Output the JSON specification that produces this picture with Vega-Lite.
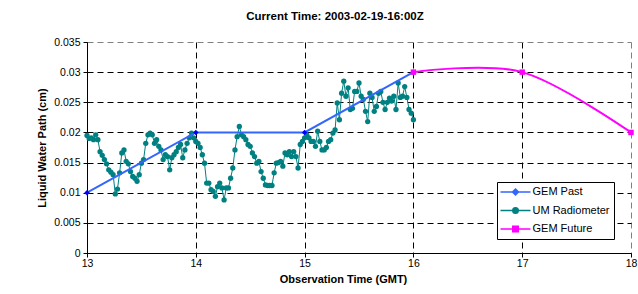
{
  "$schema": "https://vega.github.io/schema/vega-lite/v6.json",
  "width": 544,
  "height": 211,
  "autosize": "none",
  "padding": {"left": 87, "top": 42, "right": 7, "bottom": 41},
  "background": "white",
  "config": {"view": {"stroke": null}, "font": "Liberation Sans"},
  "title": {"text": "Current Time: 2003-02-19-16:00Z", "font": "Liberation Sans", "fontSize": 11.5, "fontWeight": "bold", "color": "black", "anchor": "middle", "dx": -24, "offset": 15},
  "data": {"values": [
    {"series": "GEM Past", "t": 13, "v": 0.01},
    {"series": "GEM Past", "t": 14, "v": 0.02},
    {"series": "GEM Past", "t": 15, "v": 0.02},
    {"series": "GEM Past", "t": 16, "v": 0.03},
    {"series": "GEM Future", "t": 16, "v": 0.03},
    {"series": "GEM Future", "t": 17, "v": 0.03},
    {"series": "GEM Future", "t": 18, "v": 0.02},
    {"series": "UM Radiometer", "t": 13.00, "v": 0.0195},
    {"series": "UM Radiometer", "t": 13.02, "v": 0.0190},
    {"series": "UM Radiometer", "t": 13.04, "v": 0.0191},
    {"series": "UM Radiometer", "t": 13.06, "v": 0.0188},
    {"series": "UM Radiometer", "t": 13.08, "v": 0.0196},
    {"series": "UM Radiometer", "t": 13.10, "v": 0.0188},
    {"series": "UM Radiometer", "t": 13.12, "v": 0.0168},
    {"series": "UM Radiometer", "t": 13.14, "v": 0.0162},
    {"series": "UM Radiometer", "t": 13.16, "v": 0.0155},
    {"series": "UM Radiometer", "t": 13.18, "v": 0.0148},
    {"series": "UM Radiometer", "t": 13.20, "v": 0.0138},
    {"series": "UM Radiometer", "t": 13.22, "v": 0.0134},
    {"series": "UM Radiometer", "t": 13.24, "v": 0.0130},
    {"series": "UM Radiometer", "t": 13.26, "v": 0.0098},
    {"series": "UM Radiometer", "t": 13.28, "v": 0.0106},
    {"series": "UM Radiometer", "t": 13.30, "v": 0.0133},
    {"series": "UM Radiometer", "t": 13.32, "v": 0.0166},
    {"series": "UM Radiometer", "t": 13.34, "v": 0.0171},
    {"series": "UM Radiometer", "t": 13.36, "v": 0.0152},
    {"series": "UM Radiometer", "t": 13.38, "v": 0.0148},
    {"series": "UM Radiometer", "t": 13.40, "v": 0.0135},
    {"series": "UM Radiometer", "t": 13.42, "v": 0.0127},
    {"series": "UM Radiometer", "t": 13.44, "v": 0.0124},
    {"series": "UM Radiometer", "t": 13.46, "v": 0.0119},
    {"series": "UM Radiometer", "t": 13.48, "v": 0.0130},
    {"series": "UM Radiometer", "t": 13.50, "v": 0.0149},
    {"series": "UM Radiometer", "t": 13.52, "v": 0.0155},
    {"series": "UM Radiometer", "t": 13.54, "v": 0.0182},
    {"series": "UM Radiometer", "t": 13.56, "v": 0.0196},
    {"series": "UM Radiometer", "t": 13.58, "v": 0.0199},
    {"series": "UM Radiometer", "t": 13.60, "v": 0.0196},
    {"series": "UM Radiometer", "t": 13.62, "v": 0.0182},
    {"series": "UM Radiometer", "t": 13.64, "v": 0.0188},
    {"series": "UM Radiometer", "t": 13.66, "v": 0.0177},
    {"series": "UM Radiometer", "t": 13.68, "v": 0.0171},
    {"series": "UM Radiometer", "t": 13.70, "v": 0.0155},
    {"series": "UM Radiometer", "t": 13.72, "v": 0.0163},
    {"series": "UM Radiometer", "t": 13.74, "v": 0.0160},
    {"series": "UM Radiometer", "t": 13.76, "v": 0.0138},
    {"series": "UM Radiometer", "t": 13.78, "v": 0.0158},
    {"series": "UM Radiometer", "t": 13.80, "v": 0.0163},
    {"series": "UM Radiometer", "t": 13.82, "v": 0.0168},
    {"series": "UM Radiometer", "t": 13.84, "v": 0.0175},
    {"series": "UM Radiometer", "t": 13.86, "v": 0.0180},
    {"series": "UM Radiometer", "t": 13.88, "v": 0.0158},
    {"series": "UM Radiometer", "t": 13.90, "v": 0.0171},
    {"series": "UM Radiometer", "t": 13.92, "v": 0.0182},
    {"series": "UM Radiometer", "t": 13.94, "v": 0.0191},
    {"series": "UM Radiometer", "t": 13.96, "v": 0.0199},
    {"series": "UM Radiometer", "t": 13.98, "v": 0.0191},
    {"series": "UM Radiometer", "t": 14.00, "v": 0.0185},
    {"series": "UM Radiometer", "t": 14.02, "v": 0.0182},
    {"series": "UM Radiometer", "t": 14.04, "v": 0.0175},
    {"series": "UM Radiometer", "t": 14.06, "v": 0.0163},
    {"series": "UM Radiometer", "t": 14.08, "v": 0.0149},
    {"series": "UM Radiometer", "t": 14.10, "v": 0.0116},
    {"series": "UM Radiometer", "t": 14.12, "v": 0.0116},
    {"series": "UM Radiometer", "t": 14.14, "v": 0.0105},
    {"series": "UM Radiometer", "t": 14.16, "v": 0.0102},
    {"series": "UM Radiometer", "t": 14.18, "v": 0.0094},
    {"series": "UM Radiometer", "t": 14.20, "v": 0.0110},
    {"series": "UM Radiometer", "t": 14.22, "v": 0.0116},
    {"series": "UM Radiometer", "t": 14.24, "v": 0.0108},
    {"series": "UM Radiometer", "t": 14.26, "v": 0.0088},
    {"series": "UM Radiometer", "t": 14.28, "v": 0.0108},
    {"series": "UM Radiometer", "t": 14.30, "v": 0.0108},
    {"series": "UM Radiometer", "t": 14.32, "v": 0.0124},
    {"series": "UM Radiometer", "t": 14.34, "v": 0.0141},
    {"series": "UM Radiometer", "t": 14.36, "v": 0.0171},
    {"series": "UM Radiometer", "t": 14.38, "v": 0.0193},
    {"series": "UM Radiometer", "t": 14.40, "v": 0.0210},
    {"series": "UM Radiometer", "t": 14.42, "v": 0.0196},
    {"series": "UM Radiometer", "t": 14.44, "v": 0.0193},
    {"series": "UM Radiometer", "t": 14.46, "v": 0.0188},
    {"series": "UM Radiometer", "t": 14.48, "v": 0.0180},
    {"series": "UM Radiometer", "t": 14.50, "v": 0.0177},
    {"series": "UM Radiometer", "t": 14.52, "v": 0.0166},
    {"series": "UM Radiometer", "t": 14.54, "v": 0.0160},
    {"series": "UM Radiometer", "t": 14.56, "v": 0.0149},
    {"series": "UM Radiometer", "t": 14.58, "v": 0.0152},
    {"series": "UM Radiometer", "t": 14.60, "v": 0.0135},
    {"series": "UM Radiometer", "t": 14.62, "v": 0.0124},
    {"series": "UM Radiometer", "t": 14.64, "v": 0.0113},
    {"series": "UM Radiometer", "t": 14.66, "v": 0.0112},
    {"series": "UM Radiometer", "t": 14.68, "v": 0.0112},
    {"series": "UM Radiometer", "t": 14.70, "v": 0.0112},
    {"series": "UM Radiometer", "t": 14.72, "v": 0.0133},
    {"series": "UM Radiometer", "t": 14.74, "v": 0.0149},
    {"series": "UM Radiometer", "t": 14.76, "v": 0.0150},
    {"series": "UM Radiometer", "t": 14.78, "v": 0.0152},
    {"series": "UM Radiometer", "t": 14.80, "v": 0.0144},
    {"series": "UM Radiometer", "t": 14.82, "v": 0.0166},
    {"series": "UM Radiometer", "t": 14.84, "v": 0.0163},
    {"series": "UM Radiometer", "t": 14.86, "v": 0.0168},
    {"series": "UM Radiometer", "t": 14.88, "v": 0.0160},
    {"series": "UM Radiometer", "t": 14.90, "v": 0.0168},
    {"series": "UM Radiometer", "t": 14.92, "v": 0.0160},
    {"series": "UM Radiometer", "t": 14.94, "v": 0.0141},
    {"series": "UM Radiometer", "t": 14.96, "v": 0.0180},
    {"series": "UM Radiometer", "t": 14.98, "v": 0.0185},
    {"series": "UM Radiometer", "t": 15.00, "v": 0.0191},
    {"series": "UM Radiometer", "t": 15.02, "v": 0.0196},
    {"series": "UM Radiometer", "t": 15.04, "v": 0.0191},
    {"series": "UM Radiometer", "t": 15.06, "v": 0.0185},
    {"series": "UM Radiometer", "t": 15.08, "v": 0.0185},
    {"series": "UM Radiometer", "t": 15.10, "v": 0.0177},
    {"series": "UM Radiometer", "t": 15.12, "v": 0.0202},
    {"series": "UM Radiometer", "t": 15.14, "v": 0.0185},
    {"series": "UM Radiometer", "t": 15.16, "v": 0.0171},
    {"series": "UM Radiometer", "t": 15.18, "v": 0.0171},
    {"series": "UM Radiometer", "t": 15.20, "v": 0.0175},
    {"series": "UM Radiometer", "t": 15.22, "v": 0.0185},
    {"series": "UM Radiometer", "t": 15.24, "v": 0.0188},
    {"series": "UM Radiometer", "t": 15.26, "v": 0.0199},
    {"series": "UM Radiometer", "t": 15.28, "v": 0.0204},
    {"series": "UM Radiometer", "t": 15.30, "v": 0.0249},
    {"series": "UM Radiometer", "t": 15.32, "v": 0.0221},
    {"series": "UM Radiometer", "t": 15.34, "v": 0.0265},
    {"series": "UM Radiometer", "t": 15.36, "v": 0.0285},
    {"series": "UM Radiometer", "t": 15.38, "v": 0.0260},
    {"series": "UM Radiometer", "t": 15.40, "v": 0.0274},
    {"series": "UM Radiometer", "t": 15.42, "v": 0.0238},
    {"series": "UM Radiometer", "t": 15.44, "v": 0.0240},
    {"series": "UM Radiometer", "t": 15.46, "v": 0.0268},
    {"series": "UM Radiometer", "t": 15.48, "v": 0.0268},
    {"series": "UM Radiometer", "t": 15.50, "v": 0.0282},
    {"series": "UM Radiometer", "t": 15.52, "v": 0.0260},
    {"series": "UM Radiometer", "t": 15.54, "v": 0.0255},
    {"series": "UM Radiometer", "t": 15.56, "v": 0.0235},
    {"series": "UM Radiometer", "t": 15.58, "v": 0.0218},
    {"series": "UM Radiometer", "t": 15.60, "v": 0.0265},
    {"series": "UM Radiometer", "t": 15.62, "v": 0.0258},
    {"series": "UM Radiometer", "t": 15.64, "v": 0.0235},
    {"series": "UM Radiometer", "t": 15.66, "v": 0.0243},
    {"series": "UM Radiometer", "t": 15.68, "v": 0.0265},
    {"series": "UM Radiometer", "t": 15.70, "v": 0.0268},
    {"series": "UM Radiometer", "t": 15.72, "v": 0.0250},
    {"series": "UM Radiometer", "t": 15.74, "v": 0.0238},
    {"series": "UM Radiometer", "t": 15.76, "v": 0.0250},
    {"series": "UM Radiometer", "t": 15.78, "v": 0.0257},
    {"series": "UM Radiometer", "t": 15.80, "v": 0.0252},
    {"series": "UM Radiometer", "t": 15.82, "v": 0.0260},
    {"series": "UM Radiometer", "t": 15.84, "v": 0.0238},
    {"series": "UM Radiometer", "t": 15.86, "v": 0.0282},
    {"series": "UM Radiometer", "t": 15.88, "v": 0.0258},
    {"series": "UM Radiometer", "t": 15.90, "v": 0.0260},
    {"series": "UM Radiometer", "t": 15.92, "v": 0.0276},
    {"series": "UM Radiometer", "t": 15.94, "v": 0.0258},
    {"series": "UM Radiometer", "t": 15.96, "v": 0.0238},
    {"series": "UM Radiometer", "t": 15.98, "v": 0.0232},
    {"series": "UM Radiometer", "t": 16.00, "v": 0.0221}
  ]},
  "encoding": {
    "x": {
      "field": "t", "type": "quantitative",
      "scale": {"domain": [13, 18], "nice": false, "zero": false},
      "axis": {
        "values": [13, 14, 15, 16, 17, 18],
        "title": "Observation Time (GMT)",
        "titleFont": "Liberation Sans", "titleFontSize": 11, "titleFontWeight": "bold", "titleColor": "black",
        "titleX": 256, "titleAnchor": "middle", "titleAlign": "center", "titlePadding": 5,
        "labelFont": "Liberation Sans", "labelFontSize": 10.5, "labelColor": "black", "labelPadding": 1, "labelFlush": false,
        "tickSize": 4, "tickColor": "black", "domainColor": "black", "domainWidth": 1,
        "grid": true, "gridDash": [6, 4], "gridWidth": 1,
        "gridColor": {"condition": {"test": "datum.value == 18", "value": "#808080"}, "value": "black"}
      }
    },
    "y": {
      "field": "v", "type": "quantitative",
      "scale": {"domain": [0, 0.035], "nice": false},
      "axis": {
        "values": [0, 0.005, 0.01, 0.015, 0.02, 0.025, 0.03, 0.035],
        "labelExpr": "'' + datum.value",
        "title": "Liquid Water Path (cm)",
        "titleFont": "Liberation Sans", "titleFontSize": 11, "titleFontWeight": "bold", "titleColor": "black", "titlePadding": 6,
        "labelFont": "Liberation Sans", "labelFontSize": 10.5, "labelColor": "black", "labelPadding": 3,
        "tickSize": 4, "tickColor": "black", "domainColor": "black", "domainWidth": 1,
        "grid": true, "gridDash": [6, 4], "gridWidth": 1,
        "gridColor": {"condition": {"test": "datum.value == 0.035", "value": "#808080"}, "value": "black"}
      }
    },
    "color": {
      "field": "series", "type": "nominal",
      "scale": {"domain": ["GEM Past", "UM Radiometer", "GEM Future"], "range": ["#3366ff", "#008080", "#ff00ff"]},
      "legend": {
        "orient": "none", "legendX": 410, "legendY": 140,
        "title": null, "padding": 4,
        "strokeColor": "black", "fillColor": "white",
        "labelFont": "Liberation Sans", "labelFontSize": 11, "labelColor": "black",
        "symbolSize": 100, "symbolStrokeWidth": 1.5, "symbolOffset": 8.5, "labelOffset": 11, "rowPadding": 6.5,
        "encode": {
          "symbols": {
            "update": {
              "shape": {"signal": "datum.value == 'GEM Past' ? 'M-3,0H3M0,-0.6L0.6,0L0,0.6L-0.6,0Z' : datum.value == 'UM Radiometer' ? 'M-3,0H3M0.55,0A0.55,0.55,0,1,1,-0.55,0A0.55,0.55,0,1,1,0.55,0Z' : 'M-3,0H3M-0.55,-0.55H0.55V0.55H-0.55Z'"},
              "fill": {"signal": "datum.value == 'GEM Past' ? '#0000ff' : scale('color', datum.value)"},
              "stroke": {"signal": "scale('color', datum.value)"},
              "strokeWidth": {"value": 1.5},
              "opacity": {"value": 1}
            }
          }
        }
      }
    }
  },
  "layer": [
    {
      "transform": [{"filter": "datum.series == 'UM Radiometer'"}],
      "mark": {"type": "line", "strokeWidth": 1}
    },
    {
      "transform": [{"filter": "datum.series == 'UM Radiometer'"}],
      "mark": {"type": "point", "shape": "circle", "filled": true, "size": 28, "opacity": 1}
    },
    {
      "transform": [{"filter": "datum.series == 'GEM Past'"}],
      "mark": {"type": "line", "strokeWidth": 2}
    },
    {
      "transform": [{"filter": "datum.series == 'GEM Past'"}],
      "mark": {"type": "point", "shape": "diamond", "filled": true, "size": 30, "opacity": 1, "fill": "#0000ff"}
    },
    {
      "transform": [{"filter": "datum.series == 'GEM Future'"}],
      "mark": {"type": "line", "strokeWidth": 2, "interpolate": "cardinal"}
    },
    {
      "transform": [{"filter": "datum.series == 'GEM Future'"}],
      "mark": {"type": "point", "shape": "square", "filled": true, "size": 30, "opacity": 1}
    }
  ]
}
